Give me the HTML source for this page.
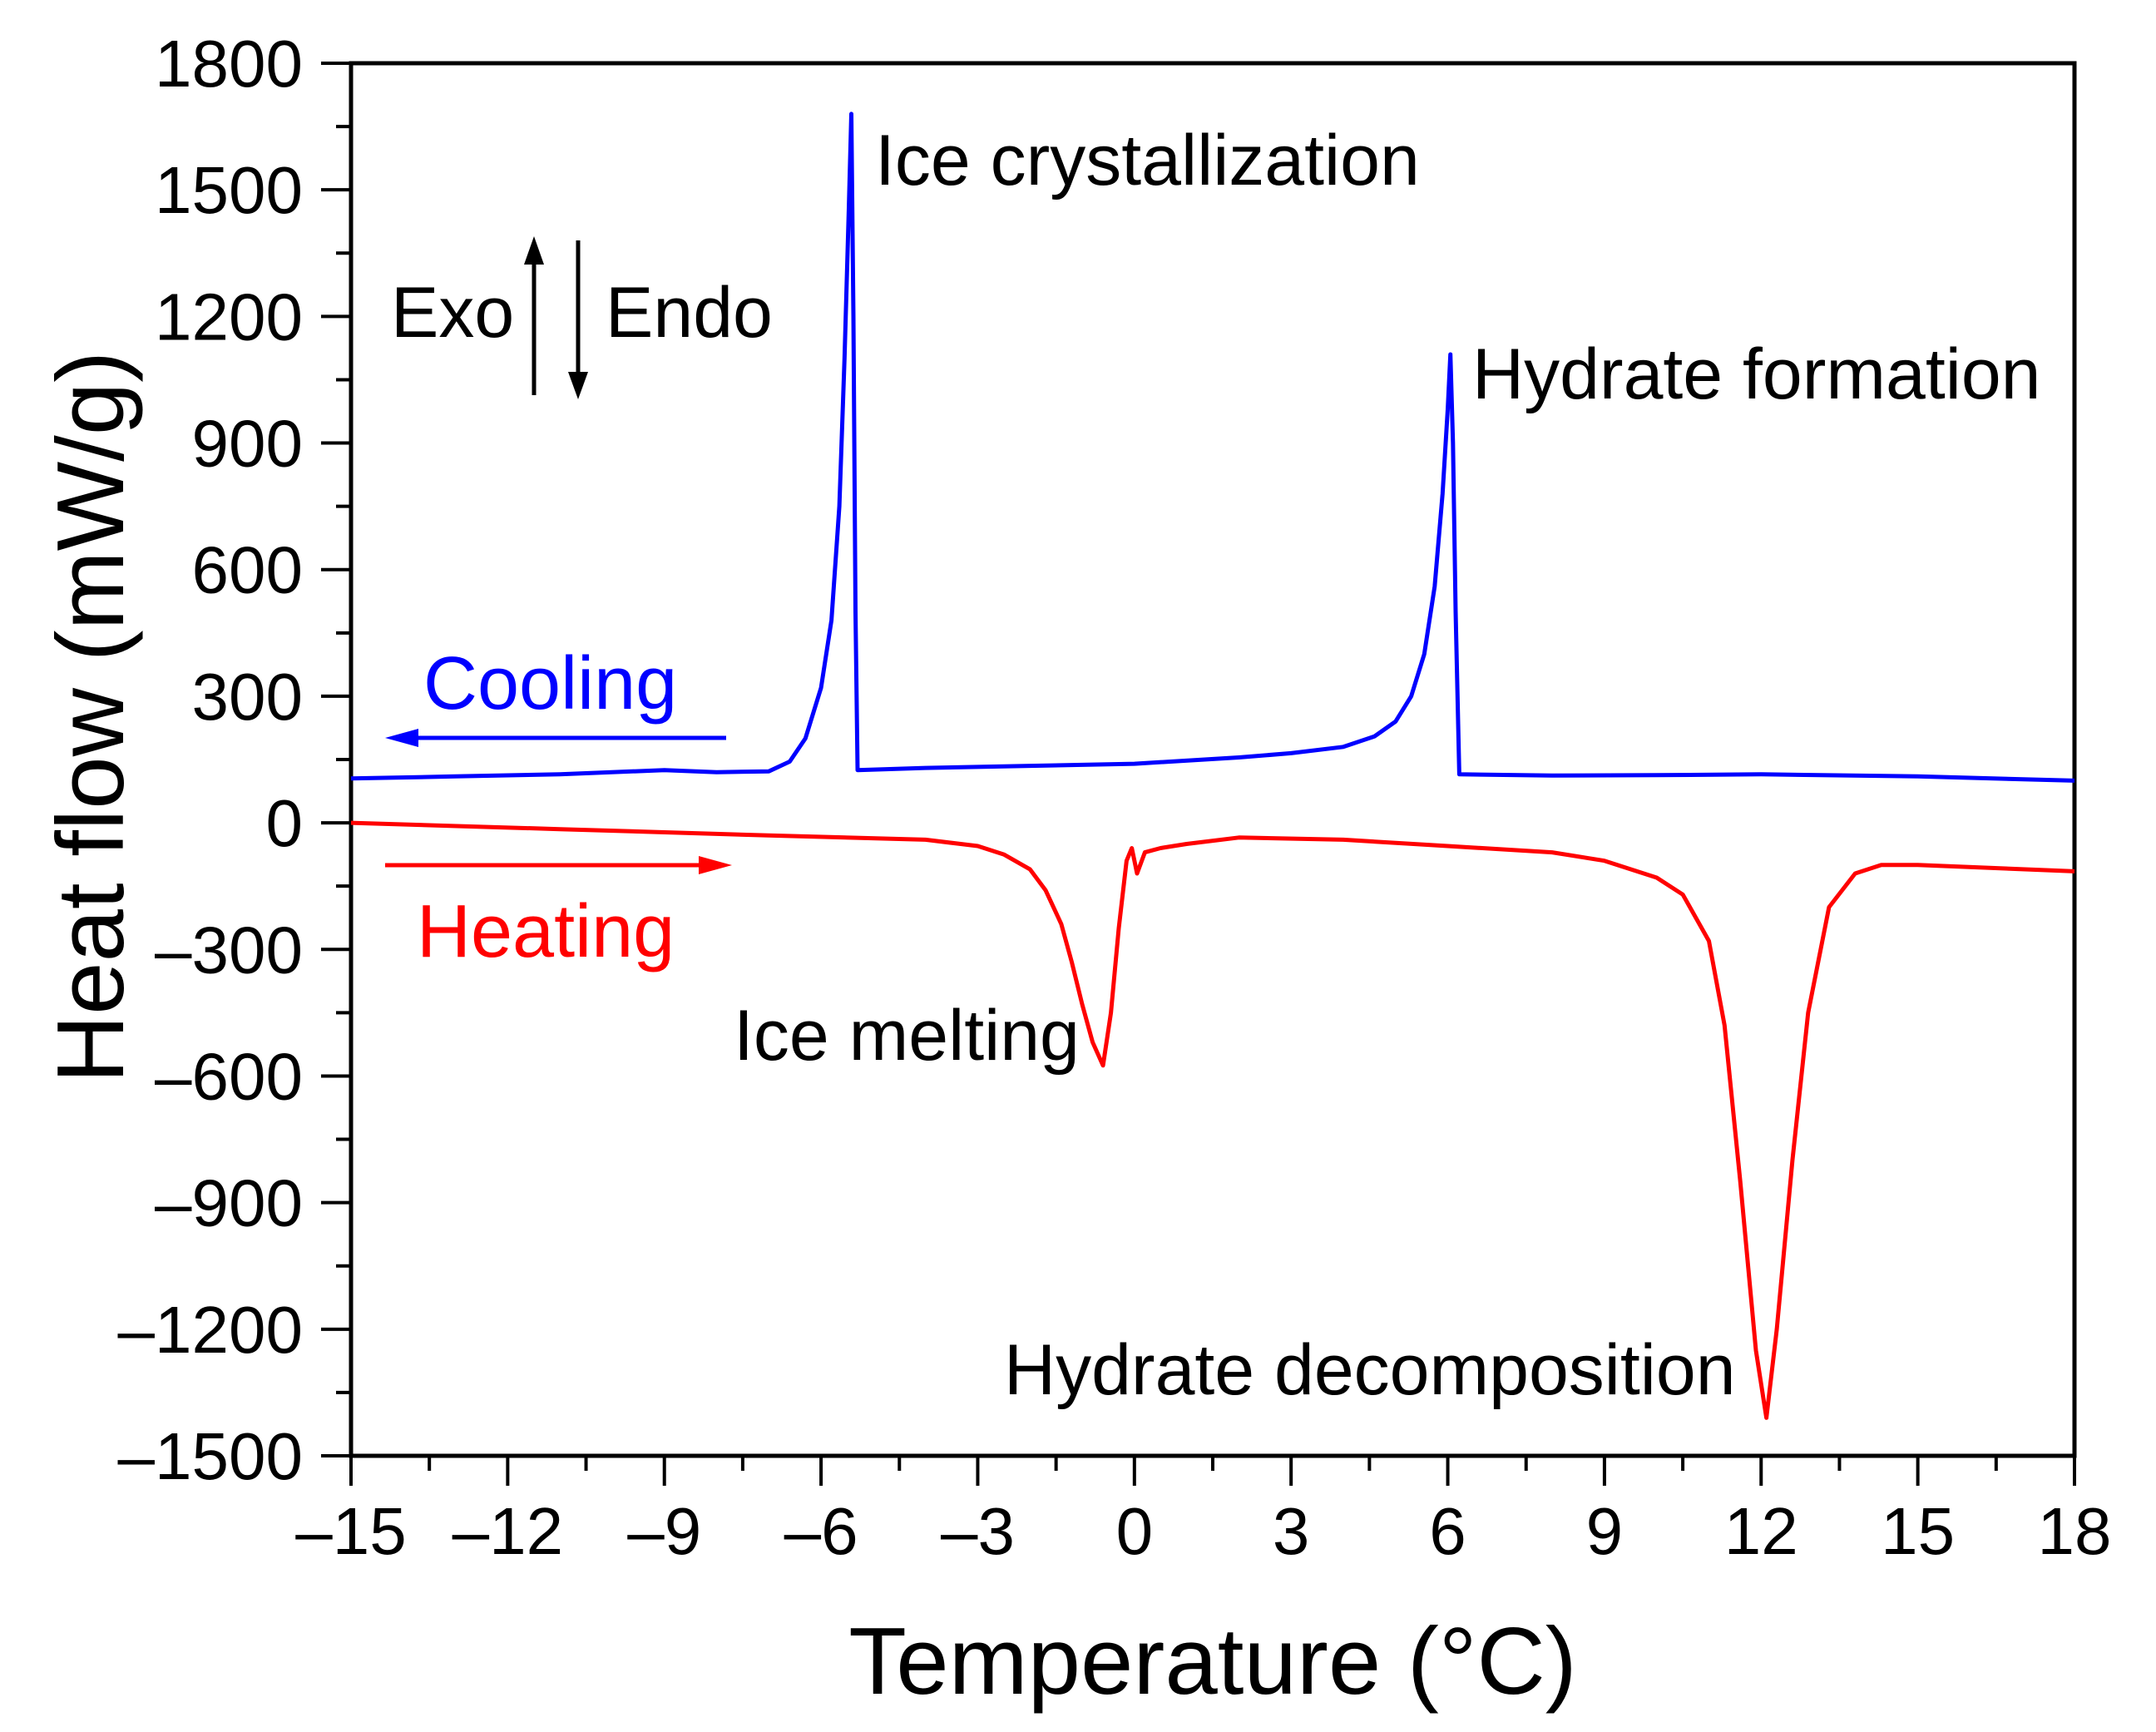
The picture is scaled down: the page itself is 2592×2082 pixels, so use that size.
<!DOCTYPE html>
<html><head><meta charset="utf-8"><style>
html,body{margin:0;padding:0;background:#fff;}
svg{display:block;font-family:"Liberation Sans",Arial,sans-serif;}
</style></head><body>
<svg id="chart" width="2592" height="2082" viewBox="0 0 2592 2082" xmlns="http://www.w3.org/2000/svg">
<g id="axes"></g>
<g id="series"></g>
<g font-size="86" fill="#000">
<text x="1052" y="222">Ice crystallization</text>
<text x="1770" y="479">Hydrate formation</text>
<text x="470" y="405">Exo</text>
<text x="728" y="405">Endo</text>
<text x="882" y="1274">Ice melting</text>
<text x="1207" y="1676">Hydrate decomposition</text>
<text x="509" y="852" font-size="90" fill="#0000ff">Cooling</text>
<text x="501" y="1150" font-size="90" fill="#ff0000">Heating</text>
<g><line x1="642" y1="475" x2="642" y2="310" stroke="#000" stroke-width="5"/><polygon points="630,318 654,318 642,284" fill="#000"/></g>
<g><line x1="695" y1="289" x2="695" y2="455" stroke="#000" stroke-width="5"/><polygon points="683,447 707,447 695,480" fill="#000"/></g>
<g><line x1="873" y1="887" x2="485" y2="887" stroke="#0000ff" stroke-width="5"/><polygon points="463,887 503,876 503,898" fill="#0000ff"/></g>
<g><line x1="463" y1="1040" x2="855" y2="1040" stroke="#ff0000" stroke-width="5"/><polygon points="880,1040 840,1029 840,1051" fill="#ff0000"/></g>
</g>
<text x="1458" y="2036" font-size="114" text-anchor="middle">Temperature (°C)</text>
<text transform="translate(148,862) rotate(-90)" font-size="114" text-anchor="middle">Heat flow (mW/g)</text>
</svg>
<script>
const xTicks = [-15,-12,-9,-6,-3,0,3,6,9,12,15,18];
const yTicks = [1800,1500,1200,900,600,300,0,-300,-600,-900,-1200,-1500];
const coolT = [-15,-13,-11,-9,-8,-7,-6.6,-6.3,-6.0,-5.8,-5.65,-5.55,-5.47,-5.42,-5.38,-5.34,-5.3,-4,-2,0,2,3,4,4.6,5,5.3,5.55,5.75,5.9,6.0,6.05,6.1,6.15,6.22,8,10,12,15,18];
const coolQ = [105,110,115,125,120,122,145,200,320,480,750,1100,1450,1680,1200,500,125,130,135,140,155,165,180,205,240,300,400,560,780,980,1110,900,500,115,112,113,115,110,100];
const heatT = [-15,-11,-7,-4,-3,-2.5,-2,-1.7,-1.4,-1.2,-1,-0.8,-0.6,-0.45,-0.3,-0.15,-0.05,0.05,0.2,0.5,1,2,4,6,8,9,10,10.5,11,11.3,11.6,11.9,12.1,12.3,12.6,12.9,13.3,13.8,14.3,15,18];
const heatQ = [0,-15,-30,-40,-55,-75,-110,-160,-240,-330,-430,-520,-575,-450,-250,-90,-60,-120,-70,-60,-50,-35,-40,-55,-70,-90,-130,-170,-280,-480,-850,-1250,-1410,-1200,-800,-450,-200,-120,-100,-100,-115];
const X0=422,X1=2494,Y0=76,Y1=1750;
const sx=v=>X0+(v+15)/33*(X1-X0);
const sy=v=>Y1-(v+1500)/3300*(Y1-Y0);
const NS='http://www.w3.org/2000/svg';
const axes=document.getElementById('axes'), series=document.getElementById('series');
function mk(tag,attrs,parent){const e=document.createElementNS(NS,tag);for(const k in attrs)e.setAttribute(k,attrs[k]);parent.appendChild(e);return e;}
const frame=mk('rect',{x:X0,y:Y0,width:X1-X0,height:Y1-Y0,fill:'none',stroke:'#000','stroke-width':5},axes);


xTicks.forEach((t,i)=>{
  const x=sx(t);
  const tk=mk('line',{x1:x,y1:Y1,x2:x,y2:Y1+36,stroke:'#000','stroke-width':4},axes);
  
  
  if(i<xTicks.length-1){const m=sx(t+1.5);const mt=mk('line',{x1:m,y1:Y1,x2:m,y2:Y1+18,stroke:'#000','stroke-width':4},axes);
  
  }
  const lb=mk('text',{x:x,y:1868,'font-size':80,'text-anchor':'middle'},axes);
  lb.textContent=t<0?'\u2013'+(-t):String(t);
  
  
});
yTicks.forEach((t,i)=>{
  const y=sy(t);
  const tk=mk('line',{x1:X0,y1:y,x2:X0-36,y2:y,stroke:'#000','stroke-width':4},axes);
  
  
  if(i<yTicks.length-1){const m=sy(t-150);const mt=mk('line',{x1:X0,y1:m,x2:X0-18,y2:m,stroke:'#000','stroke-width':4},axes);
  
  }
  const lb=mk('text',{x:364,y:y+28,'font-size':80,'text-anchor':'end'},axes);
  lb.textContent=t<0?'\u2013'+(-t):String(t);
  
  
});
function line(T,Q,color,name){
  const d=T.map((t,i)=>(i?'L':'M')+sx(t).toFixed(1)+','+sy(Q[i]).toFixed(1)).join('');
  const p=mk('path',{d:d,fill:'none',stroke:color,'stroke-width':5,'stroke-linejoin':'round'},series);
  
  
}
line(coolT,coolQ,'#0000ff','cooling-curve');
line(heatT,heatQ,'#ff0000','heating-curve');
</script>
</body></html>
